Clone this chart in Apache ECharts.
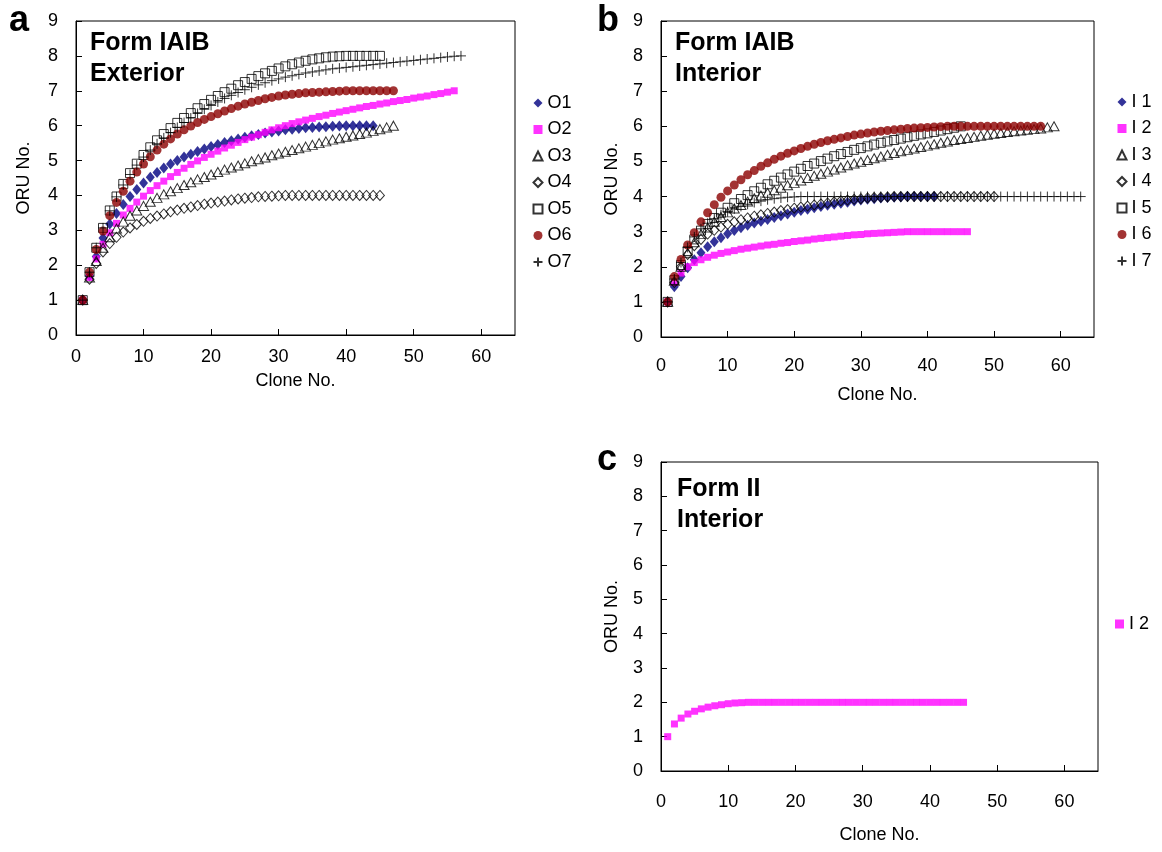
<!DOCTYPE html>
<html><head><meta charset="utf-8">
<script src="https://cdn.jsdelivr.net/npm/echarts@6/dist/echarts.min.js"></script>
<style>html,body{margin:0;padding:0;background:#fff}#c{width:1162px;height:852px}</style>
</head><body><div id="c"></div><script>
// ---- Panel a: Form IAIB Exterior ----
const O1 = [1,1.7,2.25,2.78,3.18,3.48,3.74,3.97,4.17,4.36,4.52,4.66,4.79,4.9,5.0,5.1,5.18,5.26,5.33,5.4,5.46,5.52,5.57,5.62,5.67,5.71,5.75,5.79,5.82,5.85,5.88,5.9,5.92,5.94,5.95,5.96,5.97,5.98,5.99,6,6,6,6,6];
const O2 = [1,1.65,2.18,2.6,2.93,3.2,3.44,3.63,3.81,3.98,4.14,4.28,4.41,4.54,4.66,4.78,4.89,4.99,5.09,5.18,5.27,5.36,5.44,5.52,5.6,5.67,5.74,5.81,5.88,5.94,6.0,6.06,6.11,6.16,6.21,6.26,6.3,6.35,6.39,6.43,6.47,6.51,6.55,6.58,6.62,6.65,6.69,6.72,6.75,6.79,6.82,6.85,6.89,6.92,6.96,7.0];
const O3 = [1,1.65,2.12,2.5,2.8,3.05,3.25,3.42,3.57,3.7,3.82,3.93,4.03,4.12,4.21,4.3,4.38,4.46,4.53,4.6,4.67,4.74,4.8,4.86,4.92,4.98,5.04,5.09,5.15,5.2,5.25,5.3,5.35,5.4,5.45,5.5,5.55,5.6,5.64,5.68,5.72,5.76,5.8,5.85,5.9,5.95,6.0];
const O4 = [1,1.6,2.05,2.38,2.62,2.8,2.95,3.07,3.17,3.26,3.34,3.41,3.47,3.53,3.58,3.63,3.67,3.71,3.75,3.78,3.81,3.84,3.87,3.9,3.92,3.94,3.96,3.97,3.98,3.99,4,4,4,4,4,4,4,4,4,4,4,4,4,4,4];
const O5 = [1,1.8,2.5,3.07,3.57,3.97,4.33,4.64,4.91,5.16,5.38,5.58,5.76,5.93,6.08,6.22,6.36,6.5,6.62,6.74,6.85,6.96,7.06,7.16,7.25,7.34,7.42,7.5,7.57,7.64,7.7,7.76,7.81,7.86,7.9,7.93,7.96,7.98,7.99,8,8,8,8,8,8];
const O6 = [1,1.8,2.45,2.98,3.42,3.8,4.12,4.41,4.67,4.9,5.11,5.3,5.47,5.62,5.76,5.88,5.99,6.09,6.18,6.26,6.34,6.42,6.49,6.56,6.62,6.67,6.72,6.77,6.81,6.85,6.88,6.9,6.92,6.94,6.95,6.96,6.97,6.98,6.99,7,7,7,7,7,7,7,7];
const O7 = [1,1.8,2.5,3.07,3.56,3.96,4.3,4.6,4.87,5.1,5.3,5.48,5.65,5.8,5.95,6.09,6.22,6.35,6.47,6.58,6.68,6.78,6.87,6.95,7.03,7.1,7.17,7.23,7.29,7.34,7.39,7.43,7.47,7.51,7.54,7.57,7.6,7.63,7.65,7.67,7.69,7.71,7.73,7.75,7.77,7.79,7.81,7.83,7.85,7.87,7.89,7.91,7.93,7.95,7.97,7.99,8.0];
// ---- Panel b: Form IAIB Interior ----
const I1 = [1,1.43,1.72,1.97,2.2,2.4,2.57,2.71,2.83,2.94,3.03,3.11,3.18,3.25,3.3,3.35,3.4,3.45,3.5,3.55,3.6,3.64,3.68,3.72,3.75,3.78,3.81,3.84,3.87,3.9,3.92,3.94,3.96,3.97,3.98,3.99,4,4,4,4,4];
const I2 = [1,1.55,1.82,2.0,2.12,2.2,2.27,2.33,2.38,2.42,2.46,2.5,2.53,2.56,2.59,2.62,2.64,2.67,2.69,2.72,2.74,2.76,2.79,2.81,2.83,2.85,2.87,2.89,2.91,2.92,2.94,2.95,2.96,2.97,2.98,2.99,3,3,3,3,3,3,3,3,3,3];
const I3 = [1,1.6,2.0,2.4,2.7,2.93,3.12,3.28,3.42,3.55,3.66,3.76,3.86,3.95,4.03,4.11,4.18,4.25,4.32,4.39,4.46,4.53,4.59,4.65,4.71,4.77,4.83,4.89,4.94,4.99,5.04,5.09,5.14,5.19,5.24,5.29,5.33,5.37,5.41,5.45,5.49,5.53,5.57,5.61,5.64,5.67,5.7,5.73,5.76,5.79,5.81,5.84,5.86,5.88,5.9,5.92,5.94,5.97,6.0];
const I4 = [1,1.55,2.0,2.35,2.6,2.78,2.93,3.04,3.13,3.21,3.28,3.34,3.39,3.44,3.48,3.52,3.56,3.6,3.63,3.67,3.7,3.73,3.76,3.79,3.82,3.85,3.88,3.9,3.92,3.94,3.96,3.97,3.98,3.99,4,4,4,4,4,4,4,4,4,4,4,4,4,4,4,4];
const I5 = [1,1.62,2.05,2.45,2.78,3.03,3.22,3.39,3.54,3.68,3.81,3.93,4.04,4.15,4.25,4.35,4.45,4.54,4.63,4.71,4.79,4.87,4.94,5.01,5.08,5.15,5.21,5.27,5.33,5.38,5.43,5.48,5.53,5.57,5.61,5.65,5.69,5.73,5.77,5.8,5.84,5.88,5.92,5.96,6.0];
const I6 = [1,1.72,2.21,2.62,2.97,3.28,3.54,3.77,3.98,4.16,4.33,4.48,4.62,4.74,4.86,4.96,5.06,5.15,5.23,5.3,5.37,5.43,5.49,5.54,5.59,5.63,5.67,5.71,5.75,5.78,5.81,5.84,5.86,5.88,5.9,5.92,5.94,5.95,5.96,5.97,5.98,5.99,6,6,6,6,6,6,6,6,6,6,6,6,6,6,6];
const I7 = [1,1.65,2.12,2.55,2.85,3.08,3.24,3.37,3.48,3.57,3.65,3.72,3.78,3.83,3.87,3.91,3.94,3.96,3.98,3.99,4,4,4,4,4,4,4,4,4,4,4,4,4,4,4,4,4,4,4,4,4,4,4,4,4,4,4,4,4,4,4,4,4,4,4,4,4,4,4,4,4,4,4];
// ---- Panel c: Form II Interior ----
const C2 = [1,1.37,1.54,1.66,1.74,1.81,1.86,1.9,1.93,1.96,1.98,1.99,2,2,2,2,2,2,2,2,2,2,2,2,2,2,2,2,2,2,2,2,2,2,2,2,2,2,2,2,2,2,2,2,2];

const namesA = ['O1','O2','O3','O4','O5','O6','O7'];
const namesB = ['I 1','I 2','I 3','I 4','I 5','I 6','I 7'];
const namesC = ['I 2'];
const titleA = 'Form IAIB\nExterior', titleB = 'Form IAIB\nInterior', titleC = 'Form II\nInterior';

const FONT = '"Liberation Sans", Arial, sans-serif';
const outline = {color:'rgba(0,0,0,0)', borderColor:'#000', borderWidth:1};
const styles = [
  {symbol:'diamond', symbolSize:[9,11], itemStyle:{color:'#000080'}},
  {symbol:'rect', symbolSize:7, itemStyle:{color:'#FF00FF'}},
  {symbol:'triangle', symbolSize:[10,9], itemStyle:outline},
  {symbol:'diamond', symbolSize:[9,10], itemStyle:outline},
  {symbol:'rect', symbolSize:9, itemStyle:outline},
  {symbol:'circle', symbolSize:9, itemStyle:{color:'#8B0000'}},
  {symbol:'path://M0,5L10,5M5,0L5,10', symbolSize:10, itemStyle:{color:'none', borderColor:'#000', borderWidth:1}}
];
function pts(arr){ return arr.map((v,i)=>[i+1, v]); }
function mk(name, arr, st, gi){
  return Object.assign({type:'scatter', name:name, xAxisIndex:gi, yAxisIndex:gi, data:pts(arr), silent:true, animation:false}, JSON.parse(JSON.stringify(st)));
}
const series = [];
[O1,O2,O3,O4,O5,O6,O7].forEach((a,i)=>series.push(mk(namesA[i], a, styles[i], 0)));
[I1,I2,I3,I4,I5,I6,I7].forEach((a,i)=>series.push(mk(namesB[i], a, styles[i], 1)));
series.push(mk(namesC[0], C2, styles[1], 2));

function xAx(gi, margin, gap){ return {type:'value', gridIndex:gi, min:0, max:65, interval:10,
  axisLine:{show:true, onZero:false, lineStyle:{color:'#000', width:1}},
  axisTick:{show:true, inside:true, length:6, lineStyle:{color:'#000'}},
  axisLabel:{color:'#000', fontSize:18, fontFamily:FONT, margin:margin, showMaxLabel:false},
  splitLine:{show:false}, name:'Clone No.', nameLocation:'middle', nameGap:gap,
  nameTextStyle:{color:'#000', fontSize:18, fontFamily:FONT}}; }
function yAx(gi, gap){ return {type:'value', gridIndex:gi, min:0, max:9, interval:1,
  axisLine:{show:true, onZero:false, lineStyle:{color:'#000', width:1}},
  axisTick:{show:true, inside:true, length:6, lineStyle:{color:'#000'}},
  axisLabel:{color:'#000', fontSize:18, fontFamily:FONT, margin:18},
  splitLine:{show:false}, name:'ORU No.', nameLocation:'middle', nameGap:gap,
  nameTextStyle:{color:'#000', fontSize:18, fontFamily:FONT}}; }
function lg(names, left, top){ return {orient:'vertical', left:left, top:top, data:names, itemWidth:9, itemHeight:9, itemGap:8.5,
  selectedMode:false, textStyle:{color:'#000', fontSize:18, fontFamily:FONT, lineHeight:18}}; }
function ttl(txt, x, y){ return {type:'text', left:x, top:y, style:{text:txt, font:'bold 25px '+FONT, lineHeight:31, fill:'#000'}}; }
function lab(txt, x, y){ return {type:'text', left:x, top:y, style:{text:txt, font:'bold 36px '+FONT, fill:'#000'}}; }

const chart = echarts.init(document.getElementById('c'), null, {renderer:'canvas'});
chart.setOption({
  animation:false,
  backgroundColor:'#fff',
  grid:[
    {left:76, top:21, width:439, height:314, show:true, borderColor:'#000', borderWidth:1},
    {left:661, top:21, width:433, height:316, show:true, borderColor:'#000', borderWidth:1},
    {left:661, top:462, width:437, height:309, show:true, borderColor:'#000', borderWidth:1}
  ],
  xAxis:[xAx(0,13,37), xAx(1,20,49), xAx(2,22,55)],
  yAxis:[yAx(0,43), yAx(1,40), yAx(2,40)],
  legend:[lg(namesA, 526, 89), lg(namesB, 1110, 88), lg(namesC, 1110, 610)],
  graphic:[
    lab('a', 9, 3), lab('b', 597, 3), lab('c', 597, 442),
    ttl(titleA, 90, 28), ttl(titleB, 675, 28), ttl(titleC, 677, 474)
  ],
  series: series
});
</script></body></html>
